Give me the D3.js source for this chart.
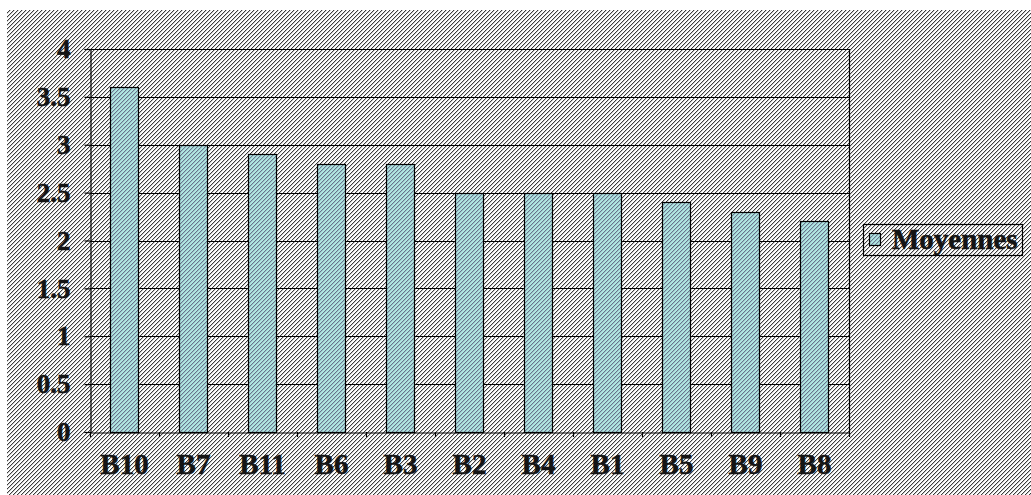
<!DOCTYPE html>
<html><head><meta charset="utf-8">
<script src="https://cdn.jsdelivr.net/npm/d3@7"></script>
<style>html,body{margin:0;padding:0;background:#fff;}svg{display:block;}</style>
</head><body>
<script>
const categories = ["B10","B7","B11","B6","B3","B2","B4","B1","B5","B9","B8"];
const moyennes = [3.6, 3.0, 2.9, 2.8, 2.8, 2.5, 2.5, 2.5, 2.4, 2.3, 2.2];
const yTicks = [0, 0.5, 1, 1.5, 2, 2.5, 3, 3.5, 4];
const seriesName = "Moyennes";

const W = 1031, H = 495;
const svg = d3.select("body").append("svg").attr("width", W).attr("height", H);
const defs = svg.append("defs");

function hatch(id, bg, cells) {
  const p = defs.append("pattern").attr("id", id).attr("patternUnits", "userSpaceOnUse")
    .attr("width", 4).attr("height", 4);
  p.append("rect").attr("width", 4).attr("height", 4).attr("fill", bg);
  p.selectAll("rect.px").data(cells).join("rect").attr("class", "px")
    .attr("x", d => d[0]).attr("y", d => d[1]).attr("width", 1).attr("height", 1)
    .attr("fill", d => d[2]).attr("shape-rendering", "crispEdges");
}
const dk = "#3c3c3c", md = "#c8c8c8";
const bgCells = [[3,0,dk],[0,0,md],[2,1,dk],[3,1,md],[1,2,dk],[2,2,md],[0,3,dk],[1,3,md]];
const bd = "#66748c", bm = "#9cc4c8";
const barCells = [[3,0,bd],[0,0,bm],[2,1,bd],[3,1,bm],[1,2,bd],[2,2,bm],[0,3,bd],[1,3,bm]];
hatch("bgHatch", "#ffffff", bgCells);
hatch("barHatch", "#b0e6e2", barCells);

// background
svg.append("rect").attr("x", 7).attr("y", 10).attr("width", W - 7).attr("height", H - 10)
  .attr("fill", "url(#bgHatch)");

const m = {left: 90, top: 49, right: 849, bottom: 432};
const x = d3.scaleBand().domain(categories).range([m.left, m.right]).paddingInner(0.59).paddingOuter(0.295);
const xb = d3.scaleBand().domain(categories).range([m.left, m.right]);
const y = d3.scaleLinear().domain([0, 4]).range([m.bottom, m.top]);

const font = "'Liberation Serif','Times New Roman',serif";
function styleText(sel, size) {
  sel.style("font-family", font).style("font-weight", "bold").style("font-size", size + "px")
    .attr("fill", "#141414").attr("stroke", "#141414").attr("stroke-width", 0.5);
}

// gridlines
svg.append("g").selectAll("line").data(yTicks.filter(d => d > 0)).join("line")
  .attr("x1", m.left).attr("x2", m.right)
  .attr("y1", d => Math.round(y(d)) + 0.5).attr("y2", d => Math.round(y(d)) + 0.5)
  .attr("stroke", "#000").attr("stroke-width", 1.2);
// right border
svg.append("line").attr("x1", m.right + 0.5).attr("x2", m.right + 0.5)
  .attr("y1", m.top).attr("y2", m.bottom).attr("stroke", "#000").attr("stroke-width", 1.2);

// bars
svg.append("g").selectAll("rect").data(moyennes).join("rect")
  .attr("x", (d, i) => Math.round(x(categories[i])) + 0.5)
  .attr("y", d => Math.round(y(d)) + 0.5)
  .attr("width", Math.round(x.bandwidth()))
  .attr("height", d => Math.round(m.bottom - y(d)))
  .attr("fill", "url(#barHatch)").attr("stroke", "#000").attr("stroke-width", 1.2);

// y axis
const yAxis = svg.append("g").attr("transform", `translate(${m.left + 0.5},0)`)
  .call(d3.axisLeft(y).tickValues(yTicks).tickFormat(d3.format("")).tickSize(6).tickPadding(14));
yAxis.select(".domain").attr("stroke", "#000").attr("stroke-width", 1.2);
yAxis.selectAll(".tick line").attr("stroke", "#000").attr("stroke-width", 1.2);
styleText(yAxis.selectAll("text"), 27);

// x axis
const xAxis = svg.append("g").attr("transform", `translate(0,${m.bottom + 0.5})`)
  .call(d3.axisBottom(xb).tickSize(0).tickPadding(21));
xAxis.select(".domain").attr("stroke", "#000").attr("stroke-width", 1.2);
styleText(xAxis.selectAll("text"), 29);
// boundary ticks
const bounds = categories.map(c => xb(c)).concat([m.right]);
svg.append("g").selectAll("line").data(bounds).join("line")
  .attr("x1", d => Math.round(d) + 0.5).attr("x2", d => Math.round(d) + 0.5)
  .attr("y1", m.bottom).attr("y2", m.bottom + 5).attr("stroke", "#000").attr("stroke-width", 1.2);

// legend
const lg = svg.append("g");
lg.append("rect").attr("x", 863.5).attr("y", 224.5).attr("width", 159).attr("height", 31)
  .attr("fill", "url(#bgHatch)").attr("stroke", "#000").attr("stroke-width", 1.2);
lg.append("rect").attr("x", 869.5).attr("y", 233.5).attr("width", 11).attr("height", 12)
  .attr("fill", "url(#barHatch)").attr("stroke", "#000").attr("stroke-width", 1.2);
styleText(lg.append("text").attr("x", 892).attr("y", 249).text(seriesName), 29);
</script>
</body></html>
